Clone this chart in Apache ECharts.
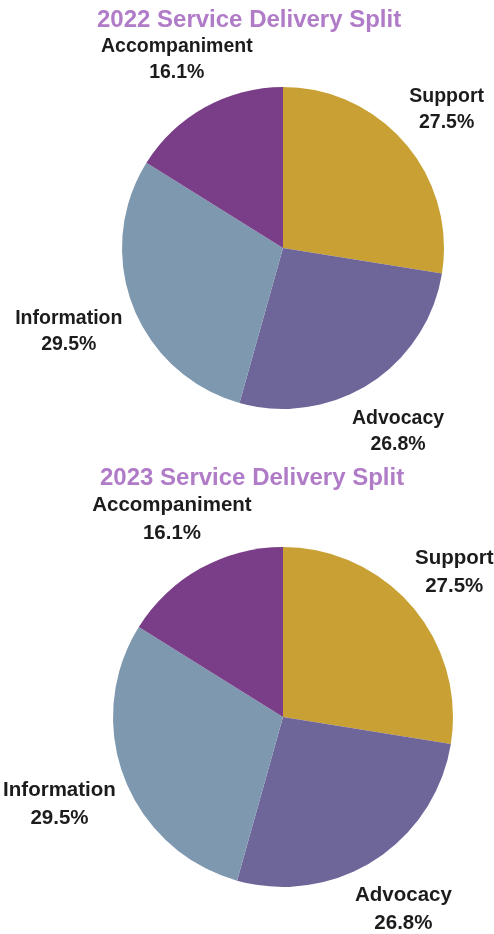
<!DOCTYPE html>
<html>
<head>
<meta charset="utf-8">
<script src="https://cdn.jsdelivr.net/npm/echarts@6/dist/echarts.min.js"></script>
<style>
html, body { margin: 0; padding: 0; background: #fff; }
#main { width: 494px; height: 934px; }
</style>
</head>
<body>
<div id="main"></div>
<script>
// slice order goes clockwise from 12 o'clock
const categories = ['Support', 'Advocacy', 'Information', 'Accompaniment'];
const share2022 = [27.5, 26.8, 29.5, 16.1];
const share2023 = [27.5, 26.8, 29.5, 16.1];
const chartTitles = ['2022 Service Delivery Split', '2023 Service Delivery Split'];
const sliceColors = ['#C9A034', '#6E6599', '#7E98B0', '#793E87'];

const FONT = 'Liberation Sans, Arial, sans-serif';

// small hand nudges for the labels, [dx, dy] per slice
const labelNudge = [[-3, 4], [-3, -1], [-10, 5], [0, 3]];

function toData(values) {
    return categories.map((name, i) => ({
        name: name,
        value: values[i],
        itemStyle: { color: sliceColors[i] }
    }));
}

// the real pie
function pieSeries(values, center, radius) {
    return {
        type: 'pie',
        center: center,
        radius: radius,
        startAngle: 90,
        clockwise: true,
        silent: true,
        label: { show: false },
        labelLine: { show: false },
        data: toData(values)
    };
}

// an empty ring further out, only there to put the labels on each slice's mid angle
function labelRing(values, center, ringRadius, fontSize, lineHeight) {
    return {
        type: 'pie',
        center: center,
        radius: ringRadius,
        startAngle: 90,
        clockwise: true,
        silent: true,
        itemStyle: { color: 'rgba(0,0,0,0)' },
        label: {
            show: true,
            position: 'inside',
            formatter: '{b}\n{c}%',
            color: '#1c1c1c',
            fontFamily: FONT,
            fontWeight: 'bold',
            fontSize: fontSize,
            lineHeight: lineHeight,
            align: 'center'
        },
        labelLayout: function (params) {
            let n = labelNudge[params.dataIndex];
            return { dx: n[0], dy: n[1] };
        },
        labelLine: { show: false },
        data: categories.map((name, i) => ({ name: name, value: values[i] }))
    };
}

let chart = echarts.init(document.getElementById('main'));
chart.setOption({
    animation: false,
    title: [
        {
            text: chartTitles[0],
            left: 92,
            top: 3,
            textStyle: { fontFamily: FONT, fontSize: 24, fontWeight: 'bold', color: '#B07BC7' }
        },
        {
            text: chartTitles[1],
            left: 95,
            top: 461,
            textStyle: { fontFamily: FONT, fontSize: 24, fontWeight: 'bold', color: '#B07BC7' }
        }
    ],
    series: [
        pieSeries(share2022, [283, 248], 161),
        labelRing(share2022, [283, 248], [210, 222], 19.5, 26),
        pieSeries(share2023, [283, 717], 170),
        labelRing(share2023, [283, 717], [220, 232], 20.5, 28)
    ]
});
</script>
</body>
</html>
